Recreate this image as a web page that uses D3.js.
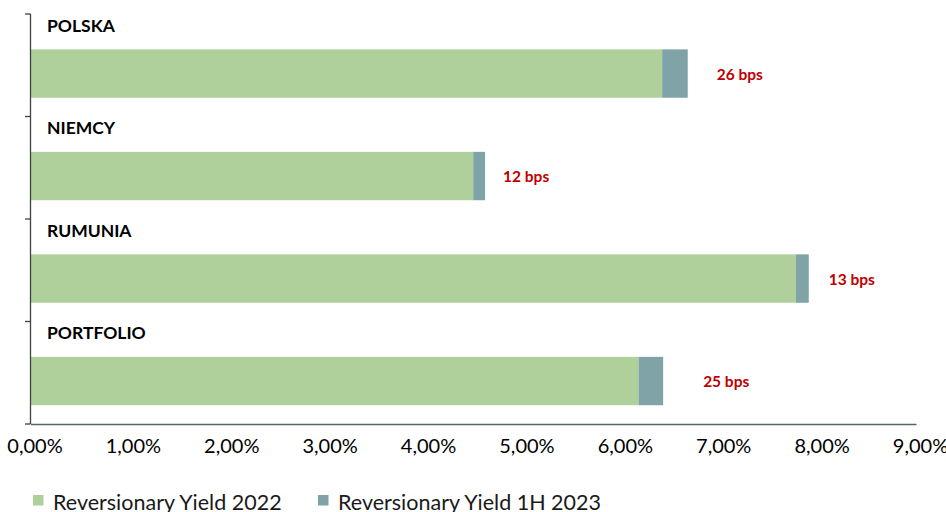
<!DOCTYPE html>
<html>
<head>
<meta charset="utf-8">
<script src="https://cdn.jsdelivr.net/npm/d3@7"></script>
<style>
  html, body { margin: 0; padding: 0; background: #fff; }
  svg { display: block; font-family: Lato, "Open Sans", sans-serif; }
</style>
</head>
<body>
<svg id="chart" width="946" height="512"></svg>
<script>
// Reversionary yield by market
const categories = ["POLSKA", "NIEMCY", "RUMUNIA", "PORTFOLIO"];
const yield2022 = [6.42, 4.50, 7.78, 6.18];      // %
const changeBps = [26, 12, 13, 25];               // change in 1H 2023, basis points
const xTicks = [0, 1, 2, 3, 4, 5, 6, 7, 8, 9];
const seriesNames = ["Reversionary Yield 2022", "Reversionary Yield 1H 2023"];

const colors = ["#AFD09B", "#7FA3A6"];

const svg = d3.select("#chart");

const x = d3.scaleLinear().domain([0, 9]).range([30.5, 916]);
const y = d3.scaleBand().domain(categories).range([14, 424]);
const bw = y.bandwidth();
const barTop = c => y(c) + bw * 0.345;
const barH = bw * 0.472;

const rows = categories.map((c, i) => ({
  cat: c,
  base: yield2022[i],
  bps: changeBps[i],
  total: yield2022[i] + changeBps[i] / 100
}));

// base segment
svg.append("g").selectAll("rect").data(rows).join("rect")
  .attr("x", x(0))
  .attr("y", d => barTop(d.cat))
  .attr("width", d => x(d.base) - x(0))
  .attr("height", barH)
  .attr("fill", colors[0]);

// 1H 2023 increment stacked on top
svg.append("g").selectAll("rect").data(rows).join("rect")
  .attr("x", d => x(d.base))
  .attr("y", d => barTop(d.cat))
  .attr("width", d => x(d.total) - x(d.base))
  .attr("height", barH)
  .attr("fill", colors[1]);

// category headings above each bar
svg.append("g").selectAll("text").data(rows).join("text")
  .attr("x", 47)
  .attr("y", d => y(d.cat) + 11)
  .attr("dominant-baseline", "central")
  .attr("font-weight", 700)
  .attr("font-size", 17.5)
  .attr("fill", "#000")
  .text(d => d.cat);

// bps labels to the right of the bars
const labelGap = [29, 18, 20, 40];
svg.append("g").selectAll("text").data(rows).join("text")
  .attr("x", (d, i) => x(d.total) + labelGap[i])
  .attr("y", d => barTop(d.cat) + barH / 2)
  .attr("dominant-baseline", "central")
  .attr("font-weight", 700)
  .attr("font-size", 15.5)
  .attr("fill", "#C00000")
  .text(d => d.bps + " bps");

// left axis with ticks between categories
const bounds = categories.map(c => y(c)).concat([y.range()[1]]);
const leftAxis = svg.append("g");
leftAxis.append("line")
  .attr("x1", 30.5).attr("x2", 30.5)
  .attr("y1", bounds[0]).attr("y2", bounds[bounds.length - 1])
  .attr("stroke", "#404040").attr("stroke-width", 1.3);
leftAxis.selectAll("line.tick").data(bounds).join("line")
  .attr("class", "tick")
  .attr("x1", 25).attr("x2", 30.5)
  .attr("y1", d => d).attr("y2", d => d)
  .attr("stroke", "#404040").attr("stroke-width", 1.3);

// bottom axis
const fmt = d => d3.format(".2f")(d).replace(".", ",") + "%";
const xAxis = d3.axisBottom(x).tickValues(xTicks).tickFormat(fmt).tickSize(0);
const gx = svg.append("g").attr("transform", "translate(0,424)").call(xAxis);
gx.select(".domain").attr("stroke", "#56646A").attr("stroke-width", 1.6);
gx.selectAll("text")
  .attr("font-family", "Lato, 'Open Sans', sans-serif")
  .attr("font-size", 20)
  .attr("fill", "#000")
  .attr("y", 29)
  .attr("dy", 0)
  .attr("dx", 4);

// legend
const legend = svg.append("g");
const legendX = [33, 318];
seriesNames.forEach((name, i) => {
  legend.append("rect")
    .attr("x", legendX[i]).attr("y", 495)
    .attr("width", 10.5).attr("height", 10.5)
    .attr("fill", colors[i]);
  legend.append("text")
    .attr("x", legendX[i] + 20).attr("y", 510)
    .attr("font-size", 21.5)
    .attr("fill", "#1a1a1a")
    .text(name);
});
</script>
</body>
</html>
